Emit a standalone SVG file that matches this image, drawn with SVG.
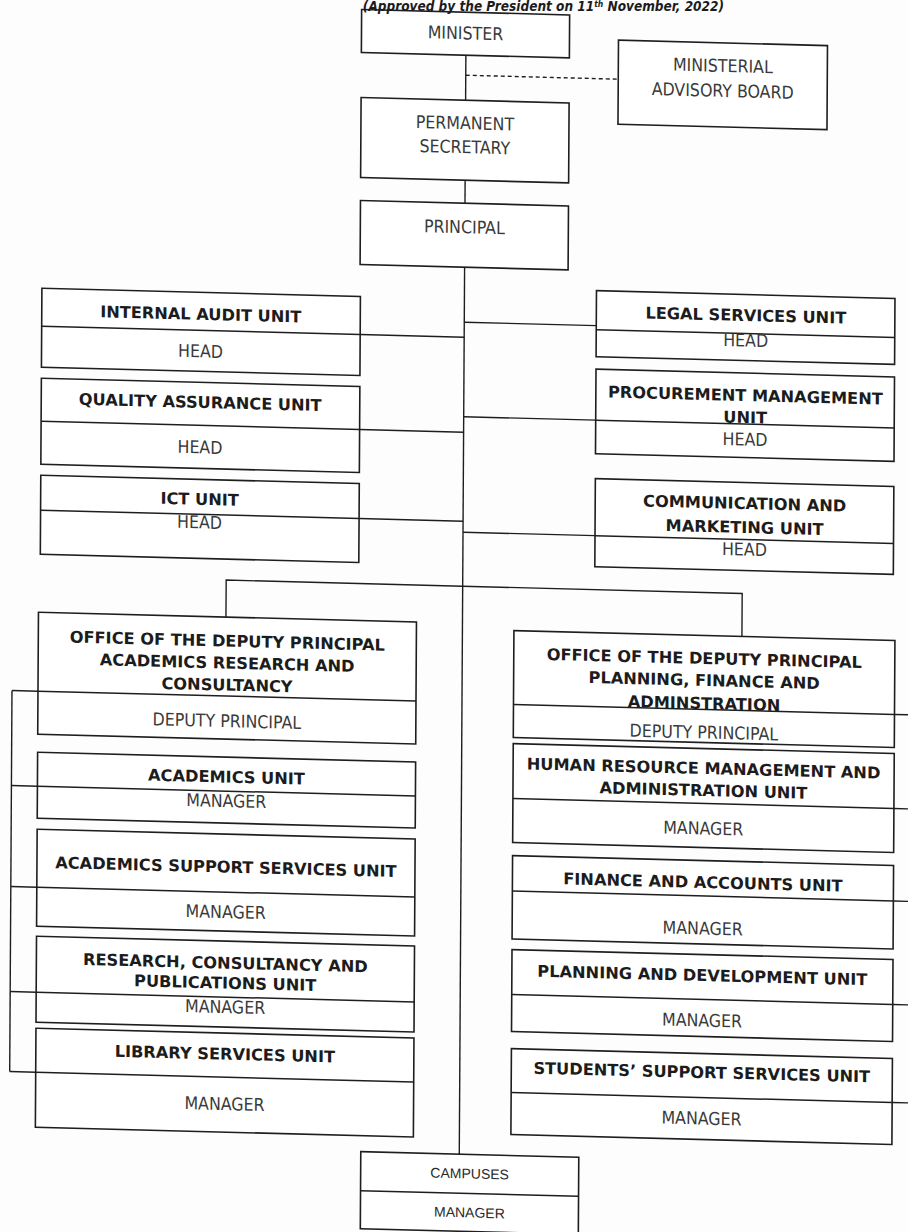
<svg xmlns="http://www.w3.org/2000/svg" width="908" height="1232" viewBox="0 0 908 1232">
<style>
.bg{fill:#fdfdfd}
.box{fill:#fff;stroke:#1e1e1e;stroke-width:1.6}
.dv{stroke:#1e1e1e;stroke-width:1.5}
.cn{stroke:#1e1e1e;stroke-width:1.4;fill:none}
.dash{stroke:#1e1e1e;stroke-width:1.4;stroke-dasharray:4 3;fill:none}
.t{font-family:"DejaVu Sans",sans-serif;font-weight:bold;font-size:16.2px;fill:#1c1c1c;text-anchor:middle;dominant-baseline:central}
.r{font-family:"DejaVu Sans Condensed","DejaVu Sans",sans-serif;font-stretch:condensed;font-size:17.6px;fill:#3a3a3a;text-anchor:middle;dominant-baseline:central}
.c{font-family:"Liberation Sans",Arial,sans-serif;font-size:14px;fill:#2a2a2a;text-anchor:middle;dominant-baseline:central}
.cap{font-family:"DejaVu Sans Condensed","DejaVu Sans",sans-serif;font-stretch:condensed;font-weight:bold;font-style:italic;font-size:13.5px;fill:#1c1c1c;text-anchor:end}
</style>
<rect class="bg" x="0" y="0" width="908" height="1232"/>
<g transform="matrix(1,0.026,-0.006,1,3.7,-11.8)">
<g id="connectors">
<line class="cn" x1="462.5" y1="55" x2="462.5" y2="1154"/>
<line class="dash" x1="462.5" y1="75" x2="615" y2="75"/>
<line class="cn" x1="358.5" y1="337" x2="462.5" y2="337"/>
<line class="cn" x1="358.5" y1="432" x2="462.5" y2="432"/>
<line class="cn" x1="358.5" y1="521" x2="462.5" y2="521"/>
<line class="cn" x1="462.5" y1="322" x2="594.5" y2="322"/>
<line class="cn" x1="462.5" y1="416.5" x2="594.5" y2="416.5"/>
<line class="cn" x1="462.5" y1="532" x2="594.5" y2="532"/>
<polyline class="cn" points="226,623 226,586 742,586 742,629"/>
<line class="cn" x1="12.5" y1="702" x2="12.5" y2="1083"/>
<line class="cn" x1="12.5" y1="702" x2="38.5" y2="702"/>
<line class="cn" x1="12.5" y1="797" x2="38.5" y2="797"/>
<line class="cn" x1="12.5" y1="898" x2="38.5" y2="898"/>
<line class="cn" x1="12.5" y1="1003" x2="38.5" y2="1003"/>
<line class="cn" x1="12.5" y1="1083" x2="38.5" y2="1083"/>
<line class="cn" x1="895" y1="703" x2="920" y2="703"/>
<line class="cn" x1="895" y1="797" x2="920" y2="797"/>
<line class="cn" x1="895" y1="889.5" x2="920" y2="889.5"/>
<line class="cn" x1="895" y1="993" x2="920" y2="993"/>
<line class="cn" x1="895" y1="1091" x2="920" y2="1091"/>
</g>
<g id="minister">
<rect class="box" x="358" y="12" width="208" height="43"/>
<text class="r" x="462" y="33">MINISTER</text>
</g>
<g id="advisory-board">
<rect class="box" x="615" y="36" width="209" height="84"/>
<text class="r" x="719.5" y="59">MINISTERIAL</text>
<text class="r" x="719.5" y="84">ADVISORY BOARD</text>
</g>
<g id="permanent-secretary">
<rect class="box" x="358" y="100" width="208" height="80"/>
<text class="r" x="462" y="123">PERMANENT</text>
<text class="r" x="462" y="147">SECRETARY</text>
</g>
<g id="principal">
<rect class="box" x="358" y="203" width="208" height="64"/>
<text class="r" x="462" y="227">PRINCIPAL</text>
</g>
<g id="internal-audit">
<rect class="box" x="40" y="299" width="318.5" height="79"/>
<line class="dv" x1="40" y1="337" x2="358.5" y2="337"/>
<text class="t" x="199" y="321">INTERNAL AUDIT UNIT</text>
<text class="r" x="199" y="358">HEAD</text>
</g>
<g id="quality-assurance">
<rect class="box" x="40" y="389" width="318.5" height="86"/>
<line class="dv" x1="40" y1="432" x2="358.5" y2="432"/>
<text class="t" x="199" y="409">QUALITY ASSURANCE UNIT</text>
<text class="r" x="199" y="454">HEAD</text>
</g>
<g id="ict">
<rect class="box" x="40" y="486" width="318.5" height="79"/>
<line class="dv" x1="40" y1="521" x2="358.5" y2="521"/>
<text class="t" x="199" y="506">ICT UNIT</text>
<text class="r" x="199" y="529">HEAD</text>
</g>
<g id="legal-services">
<rect class="box" x="594.5" y="287" width="298.5" height="66"/>
<line class="dv" x1="594.5" y1="326" x2="893" y2="326"/>
<text class="t" x="744" y="308">LEGAL SERVICES UNIT</text>
<text class="r" x="744" y="333">HEAD</text>
</g>
<g id="procurement">
<rect class="box" x="594.5" y="365.5" width="298.5" height="84.5"/>
<line class="dv" x1="594.5" y1="416.5" x2="893" y2="416.5"/>
<text class="t" x="744" y="388">PROCUREMENT MANAGEMENT</text>
<text class="t" x="744" y="410">UNIT</text>
<text class="r" x="744" y="432">HEAD</text>
</g>
<g id="communication">
<rect class="box" x="594.5" y="475" width="298.5" height="88"/>
<line class="dv" x1="594.5" y1="532" x2="893" y2="532"/>
<text class="t" x="744" y="496">COMMUNICATION AND</text>
<text class="t" x="744" y="520">MARKETING UNIT</text>
<text class="r" x="744" y="542">HEAD</text>
</g>
<g id="deputy-academics">
<rect class="box" x="38.5" y="623" width="378" height="122"/>
<line class="dv" x1="38.5" y1="702" x2="416.5" y2="702"/>
<text class="t" x="227.5" y="647">OFFICE OF THE DEPUTY PRINCIPAL</text>
<text class="t" x="227.5" y="669">ACADEMICS RESEARCH AND</text>
<text class="t" x="227.5" y="691">CONSULTANCY</text>
<text class="r" x="227.5" y="727">DEPUTY PRINCIPAL</text>
</g>
<g id="academics">
<rect class="box" x="38.5" y="763" width="378" height="66"/>
<line class="dv" x1="38.5" y1="797" x2="416.5" y2="797"/>
<text class="t" x="227.5" y="783">ACADEMICS UNIT</text>
<text class="r" x="227.5" y="807">MANAGER</text>
</g>
<g id="academics-support">
<rect class="box" x="38.5" y="840" width="378" height="97"/>
<line class="dv" x1="38.5" y1="898" x2="416.5" y2="898"/>
<text class="t" x="227.5" y="873">ACADEMICS SUPPORT SERVICES UNIT</text>
<text class="r" x="227.5" y="918">MANAGER</text>
</g>
<g id="research">
<rect class="box" x="38.5" y="947" width="378" height="86"/>
<line class="dv" x1="38.5" y1="1003" x2="416.5" y2="1003"/>
<text class="t" x="227.5" y="969">RESEARCH, CONSULTANCY AND</text>
<text class="t" x="227.5" y="989">PUBLICATIONS UNIT</text>
<text class="r" x="227.5" y="1013">MANAGER</text>
</g>
<g id="library">
<rect class="box" x="38.5" y="1039" width="378" height="99"/>
<line class="dv" x1="38.5" y1="1083" x2="416.5" y2="1083"/>
<text class="t" x="227.5" y="1060">LIBRARY SERVICES UNIT</text>
<text class="r" x="227.5" y="1110">MANAGER</text>
</g>
<g id="deputy-planning">
<rect class="box" x="514" y="629" width="381" height="107"/>
<line class="dv" x1="514" y1="703" x2="895" y2="703"/>
<text class="t" x="704.5" y="652">OFFICE OF THE DEPUTY PRINCIPAL</text>
<text class="t" x="704.5" y="674">PLANNING, FINANCE AND</text>
<text class="t" x="704.5" y="697">ADMINSTRATION</text>
<text class="r" x="704.5" y="726">DEPUTY PRINCIPAL</text>
</g>
<g id="human-resource">
<rect class="box" x="514" y="742" width="381" height="99"/>
<line class="dv" x1="514" y1="797" x2="895" y2="797"/>
<text class="t" x="704.5" y="762">HUMAN RESOURCE MANAGEMENT AND</text>
<text class="t" x="704.5" y="784">ADMINISTRATION UNIT</text>
<text class="r" x="704.5" y="822">MANAGER</text>
</g>
<g id="finance">
<rect class="box" x="514" y="854" width="381" height="83.5"/>
<line class="dv" x1="514" y1="889.5" x2="895" y2="889.5"/>
<text class="t" x="704.5" y="876">FINANCE AND ACCOUNTS UNIT</text>
<text class="r" x="704.5" y="922">MANAGER</text>
</g>
<g id="planning">
<rect class="box" x="514" y="948" width="381" height="82"/>
<line class="dv" x1="514" y1="993" x2="895" y2="993"/>
<text class="t" x="704.5" y="969">PLANNING AND DEVELOPMENT UNIT</text>
<text class="r" x="704.5" y="1014">MANAGER</text>
</g>
<g id="students-support">
<rect class="box" x="514" y="1047" width="381" height="86"/>
<line class="dv" x1="514" y1="1091" x2="895" y2="1091"/>
<text class="t" x="704.5" y="1066">STUDENTS’ SUPPORT SERVICES UNIT</text>
<text class="r" x="704.5" y="1112">MANAGER</text>
</g>
<g id="campuses">
<rect class="box" x="364" y="1154" width="218" height="77"/>
<line class="dv" x1="364" y1="1193" x2="582" y2="1193"/>
<text class="c" x="473" y="1173">CAMPUSES</text>
<text class="c" x="473" y="1212">MANAGER</text>
</g>
</g>
<text id="caption" class="cap" x="724" y="11">(Approved by the President on 11<tspan font-size="8.5" dy="-4.5">th</tspan><tspan dy="4.5"> November, 2022)</tspan></text>
</svg>
